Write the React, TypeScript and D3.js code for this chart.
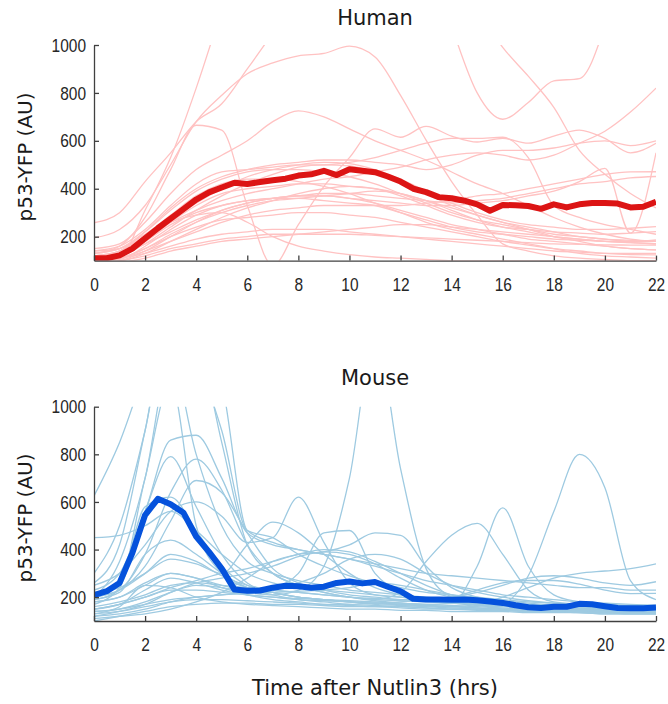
import React, { useEffect, useRef } from 'react';
import * as d3 from 'd3';

const WIDTH = 668;
const HEIGHT = 704;
const X_LEFT = 94;
const X_RIGHT = 656;

// time points (hrs) of the single-cell traces and of the mean traces
const HOURS = [0, 1, 2, 3, 4, 5, 6, 7, 8, 9, 10, 11, 12, 13, 14, 15, 16, 17, 18, 19, 20, 21, 22];
const HALF_HOURS = [
  0, 0.5, 1, 1.5, 2, 2.5, 3, 3.5, 4, 4.5, 5, 5.5, 6, 6.5, 7, 7.5, 8, 8.5, 9, 9.5, 10, 10.5,
  11, 11.5, 12, 12.5, 13, 13.5, 14, 14.5, 15, 15.5, 16, 16.5, 17, 17.5, 18, 18.5, 19, 19.5,
  20, 20.5, 21, 21.5, 22,
];
const X_TICKS = [0, 2, 4, 6, 8, 10, 12, 14, 16, 18, 20, 22];
const Y_TICKS = [200, 400, 600, 800, 1000];

// Human single cells, p53-YFP (AU) per hour, null = not tracked
const human01 = [90, 110, 310, 530, 820, 1150, null, null, null, null, null, null, null, null, null, null, null, null, null, null, null, null, null];
const human02 = [258, 300, 430, 550, 680, 755, 900, 1050, null, null, null, null, null, null, null, null, null, null, null, null, null, null, null];
const human03 = [195, 230, 330, 500, 680, 790, 880, 925, 955, 965, 995, 950, 790, 603, 430, 290, 170, 140, 120, 110, 105, 100, 100];
const human04 = [150, 170, 260, 380, 480, 540, 600, 680, 725, 700, 650, 600, 560, 520, 470, 420, 380, 330, 280, 240, 210, 190, 180];
const human05 = [null, null, null, null, null, null, null, null, null, null, null, null, null, null, 1080, 800, 690, 760, 850, 860, 1080, null, null];
const human06 = [null, null, null, null, null, null, null, null, null, null, null, null, null, null, null, 1150, 990, 870, 740, 560, 460, 380, 320];
const human07 = [120, 130, 180, 250, 300, 330, 350, 360, 370, 370, 360, 350, 340, 330, 330, 340, 350, 370, 390, 430, 485, 215, 550];
const human08 = [140, 150, 200, 260, 310, 350, 380, 400, 420, 440, 450, 470, 490, 520, 540, 550, 540, 520, 540, 590, 640, 720, 820];
const human09 = [130, 160, 280, 480, 665, 645, 330, 80, 250, 410, 530, 650, 615, 660, 620, 595, 610, 590, 620, 645, 610, 550, 590];
const human10 = [120, 140, 220, 320, 400, 450, 480, 500, 510, 520, 520, 510, 500, 480, 500, 540, 560, 560, 570, 590, 600, 580, 600];
const human11 = [140, 160, 230, 330, 420, 470, 480, 490, 500, 500, 510, 530, 560, 590, 610, 610, 615, 530, 330, 280, 250, 230, 210];
const human12 = [100, 105, 160, 230, 290, 330, 350, 360, 360, 350, 340, 330, 300, 270, 240, 220, 210, 200, 190, 185, 180, 175, 170];
const human13 = [90, 100, 140, 200, 260, 310, 340, 360, 370, 370, 360, 340, 310, 280, 250, 230, 210, 190, 180, 170, 160, 150, 145];
const human14 = [80, 95, 130, 180, 230, 280, 320, 350, 380, 400, 410, 400, 370, 330, 290, 260, 240, 230, 220, 215, 210, 215, 221];
const human15 = [120, 140, 200, 270, 340, 400, 450, 480, 500, 510, 505, 480, 440, 390, 340, 300, 270, 250, 240, 230, 230, 235, 242];
const human16 = [110, 120, 170, 240, 310, 370, 420, 460, 490, 500, 495, 470, 430, 380, 330, 290, 260, 240, 220, 200, 190, 180, 186];
const human17 = [100, 110, 150, 200, 240, 270, 280, 290, 300, 300, 290, 280, 260, 240, 220, 200, 180, 165, 150, 140, 130, 125, 124];
const human18 = [90, 100, 120, 150, 170, 190, 200, 210, 210, 210, 210, 205, 200, 195, 190, 185, 180, 175, 170, 168, 166, 165, 165];
const human19 = [70, 90, 110, 140, 160, 180, 190, 200, 210, 220, 230, 240, 250, 250, 240, 230, 220, 210, 200, 190, 180, 175, 170];
const human20 = [110, 140, 200, 260, 290, 300, 260, 200, 160, 140, 125, 115, 110, 105, 100, 100, 100, 100, 100, 100, 100, 100, 100];
const human21 = [130, 150, 210, 290, 370, 420, 440, 440, 430, 410, 380, 340, 300, 260, 230, 210, 190, 170, 150, 130, 120, 115, 110];
const human22 = [100, 120, 180, 260, 330, 380, 400, 410, 420, 420, 410, 400, 380, 350, 320, 290, 260, 230, 200, 180, 160, 150, 145];
const human23 = [95, 110, 150, 210, 260, 300, 330, 350, 360, 370, 380, 390, 380, 350, 310, 270, 240, 220, 200, 190, 180, 180, 180];
const human24 = [100, 110, 140, 180, 220, 260, 290, 310, 320, 330, 330, 330, 330, 340, 350, 370, 380, 400, 420, 440, 460, 470, 471];
const human25 = [120, 130, 170, 220, 270, 310, 340, 360, 370, 380, 380, 370, 360, 350, 340, 350, 360, 380, 400, 420, 430, 445, 451];
const human26 = [130, 150, 220, 310, 390, 440, 470, 480, 480, 470, 450, 420, 380, 340, 300, 270, 250, 230, 210, 200, 190, 185, 180];
const human27 = [100, 110, 130, 160, 190, 210, 220, 230, 230, 230, 220, 210, 200, 190, 180, 170, 160, 150, 140, 135, 130, 130, 130];

const humanCells = [
  human01, human02, human03, human04, human05, human06, human07, human08, human09,
  human10, human11, human12, human13, human14, human15, human16, human17, human18,
  human19, human20, human21, human22, human23, human24, human25, human26, human27,
];

const humanMean = [
  110, 110, 122, 150, 193, 235, 275, 315, 355, 385, 405, 425, 420, 428, 435, 442, 455, 460,
  475, 457, 481, 475, 469, 451, 430, 400, 386, 365, 360, 350, 335, 308, 332, 331, 328, 316,
  335, 322, 335, 340, 340, 338, 322, 325, 346,
];

// Mouse single cells
const mouse01 = [180, 200, 260, 300, 280, 240, 210, 190, 180, 170, 165, 160, 160, 155, 150, 150, 170, 290, 560, 800, 660, 270, 190];
const mouse02 = [150, 170, 230, 280, 260, 230, 210, 200, 195, 190, 185, 180, 175, 170, 175, 330, 575, 330, 210, 180, 165, 160, 155];
const mouse03 = [200, 230, 300, 380, 350, 290, 250, 230, 220, 210, 200, 190, 220, 350, 460, 510, 380, 230, 180, 170, 165, 160, 160];
const mouse04 = [140, 150, 180, 220, 250, 240, 220, 210, 230, 330, 700, 1300, 740, 320, 200, 170, 150, 140, 140, 135, 130, 130, 130];
const mouse05 = [250, 300, 420, 560, 600, 540, 430, 450, 620, 430, 260, 210, 200, 190, 180, 170, 165, 160, 155, 150, 150, 145, 145];
const mouse06 = [180, 200, 250, 300, 280, 250, 230, 240, 300, 470, 480, 300, 220, 190, 175, 165, 160, 155, 150, 150, 150, 145, 145];
const mouse07 = [220, 240, 300, 360, 340, 300, 420, 515, 470, 380, 300, 240, 210, 195, 185, 175, 170, 165, 160, 155, 150, 150, 150];
const mouse08 = [300, 500, 900, 1400, 1200, 900, 480, 450, 380, 330, 290, 260, 240, 220, 210, 200, 190, 180, 175, 170, 170, 165, 165];
const mouse09 = [625, 850, 1150, 1400, 1300, 1100, 480, 430, 400, 380, 360, 340, 320, 300, 290, 280, 270, 260, 250, 240, 240, 230, 230];
const mouse10 = [200, 350, 700, 1200, 800, 500, 350, 300, 270, 250, 230, 220, 210, 200, 190, 180, 175, 170, 165, 160, 160, 155, 155];
const mouse11 = [230, 300, 560, 860, 880, 700, 470, 420, 400, 380, 360, 330, 300, 270, 250, 230, 210, 200, 190, 180, 175, 170, 165];
const mouse12 = [170, 240, 560, 790, 580, 380, 260, 220, 200, 190, 180, 175, 170, 165, 160, 155, 150, 150, 145, 145, 140, 140, 140];
const mouse13 = [190, 230, 380, 640, 780, 650, 420, 300, 250, 220, 200, 185, 175, 170, 165, 160, 155, 150, 150, 145, 145, 140, 140];
const mouse14 = [200, 230, 330, 520, 690, 640, 470, 320, 260, 230, 210, 200, 190, 185, 180, 175, 170, 165, 160, 160, 155, 155, 150];
const mouse15 = [210, 260, 580, 620, 480, 330, 250, 220, 200, 190, 180, 175, 170, 165, 160, 155, 150, 150, 145, 145, 140, 140, 140];
const mouse16 = [190, 220, 380, 440, 380, 300, 240, 210, 190, 180, 170, 165, 160, 155, 150, 150, 145, 145, 140, 140, 140, 135, 135];
const mouse17 = [130, 160, 250, 240, 200, 180, 170, 165, 160, 155, 150, 150, 145, 145, 140, 140, 140, 135, 135, 135, 130, 130, 130];
const mouse18 = [260, 420, 900, 1400, 1300, 850, 420, 300, 250, 220, 200, 190, 185, 180, 175, 170, 165, 160, 155, 150, 150, 150, 150];
const mouse19 = [450, 460, 500, 560, 480, 380, 300, 260, 240, 230, 220, 210, 200, 190, 180, 170, 165, 160, 155, 150, 150, 150, 150];
const mouse20 = [100, 120, 140, 160, 170, 175, 175, 170, 170, 165, 160, 160, 155, 150, 150, 145, 145, 140, 140, 140, 135, 135, 135];
const mouse21 = [120, 130, 150, 180, 200, 210, 215, 220, 225, 230, 240, 260, 250, 230, 210, 195, 185, 175, 165, 160, 155, 150, 150];
const mouse22 = [150, 170, 200, 230, 230, 220, 210, 200, 190, 185, 180, 175, 170, 165, 160, 170, 200, 240, 280, 300, 310, 320, 340];
const mouse23 = [160, 180, 210, 250, 260, 250, 240, 230, 220, 210, 200, 195, 190, 190, 200, 220, 250, 280, 290, 280, 260, 250, 265];
const mouse24 = [140, 150, 170, 190, 200, 210, 220, 230, 260, 300, 360, 380, 360, 300, 250, 220, 200, 185, 175, 170, 165, 165, 160];
const mouse25 = [110, 120, 130, 150, 180, 220, 280, 350, 380, 390, 420, 470, 460, 330, 240, 200, 180, 170, 160, 150, 145, 140, 140];
const mouse26 = [200, 260, 700, 1100, 500, 300, 240, 220, 200, 190, 180, 170, 165, 160, 155, 150, 145, 140, 140, 135, 135, 130, 130];
const mouse27 = [150, 170, 200, 240, 270, 300, 320, 350, 380, 400, 390, 350, 300, 250, 210, 190, 175, 165, 160, 155, 150, 150, 150];
const mouse28 = [120, 140, 170, 220, 260, 280, 300, 330, 370, 390, 380, 340, 280, 230, 200, 180, 170, 160, 150, 145, 140, 140, 140];
const mouse29 = [130, 140, 160, 180, 190, 190, 185, 180, 175, 170, 170, 175, 180, 190, 200, 230, 260, 270, 270, 255, 230, 215, 216];

const mouseCells = [
  mouse01, mouse02, mouse03, mouse04, mouse05, mouse06, mouse07, mouse08, mouse09, mouse10,
  mouse11, mouse12, mouse13, mouse14, mouse15, mouse16, mouse17, mouse18, mouse19, mouse20,
  mouse21, mouse22, mouse23, mouse24, mouse25, mouse26, mouse27, mouse28, mouse29,
];

const mouseMean = [
  209, 225, 260, 385, 545, 613, 590, 555, 455, 390, 320, 232, 227, 228, 240, 248, 246, 240,
  244, 260, 266, 258, 264, 244, 225, 193, 190, 190, 189, 190, 187, 182, 176, 166, 158, 155,
  160, 160, 172, 170, 162, 155, 154, 154, 157,
];

const panels = [
  { id: 'human', title: 'Human', titleY: 25, top: 45, bottom: 260.6, labelY: 157, cells: humanCells, mean: humanMean, thin: '#ffc2c2', thick: '#dc1414' },
  { id: 'mouse', title: 'Mouse', titleY: 384.5, top: 406.7, bottom: 621, labelY: 518, cells: mouseCells, mean: mouseMean, thin: '#9ecae1', thick: '#0552dc' },
];

const TEXT_FONT = '"DejaVu Sans", Verdana, sans-serif';
const TICK_FONT = '"Liberation Sans Narrow", "Liberation Sans", Arial, sans-serif';

const App = () => {
  const svgRef = useRef(null);

  useEffect(() => {
    const svg = d3.select(svgRef.current);
    svg.selectAll('*').remove();

    const x = d3.scaleLinear().domain([0, 22]).range([X_LEFT, X_RIGHT]);

    panels.forEach(p => {
      const y = d3.scaleLinear().domain([100, 1000]).range([p.bottom, p.top]);
      const g = svg.append('g');

      g.append('clipPath')
        .attr('id', `clip-${p.id}`)
        .append('rect')
        .attr('x', X_LEFT)
        .attr('y', p.top)
        .attr('width', X_RIGHT - X_LEFT)
        .attr('height', p.bottom - p.top);

      const plot = g.append('g').attr('clip-path', `url(#clip-${p.id})`);

      const cellLine = d3
        .line()
        .defined(d => d != null)
        .x((d, i) => x(HOURS[i]))
        .y(d => y(d))
        .curve(d3.curveMonotoneX);

      plot
        .selectAll('.cell')
        .data(p.cells)
        .enter()
        .append('path')
        .attr('class', 'cell')
        .attr('d', d => cellLine(d))
        .attr('fill', 'none')
        .attr('stroke', p.thin)
        .attr('stroke-width', 1.3);

      const meanLine = d3
        .line()
        .x((d, i) => x(HALF_HOURS[i]))
        .y(d => y(d));

      plot
        .append('path')
        .attr('d', meanLine(p.mean))
        .attr('fill', 'none')
        .attr('stroke', p.thick)
        .attr('stroke-width', 6)
        .attr('stroke-linejoin', 'round');

      // axes, ticks pointing inward
      const yAxis = g
        .append('g')
        .attr('transform', `translate(${X_LEFT},0)`)
        .call(d3.axisLeft(y).tickValues(Y_TICKS).tickFormat(d3.format('d')).tickSizeInner(-5).tickSizeOuter(0).tickPadding(8));

      const xAxis = g
        .append('g')
        .attr('transform', `translate(0,${p.bottom})`)
        .call(d3.axisBottom(x).tickValues(X_TICKS).tickFormat(d3.format('d')).tickSizeInner(-5).tickSizeOuter(0).tickPadding(17));

      [yAxis, xAxis].forEach(ax => {
        ax.select('.domain').attr('stroke', '#404040').attr('stroke-width', 1.3);
        ax.selectAll('.tick line').attr('stroke', '#404040').attr('stroke-width', 1.3);
        ax.selectAll('.tick text')
          .attr('fill', '#262626')
          .style('font-family', TICK_FONT)
          .style('font-size', '19px')
          .attr('textLength', d => String(d).length * 8.6)
          .attr('lengthAdjust', 'spacingAndGlyphs');
      });

      g.append('text')
        .attr('x', (X_LEFT + X_RIGHT) / 2)
        .attr('y', p.titleY)
        .attr('text-anchor', 'middle')
        .style('font-family', TEXT_FONT)
        .style('font-size', '21px')
        .attr('fill', '#1a1a1a')
        .text(p.title);

      g.append('text')
        .attr('transform', `translate(32,${p.labelY}) rotate(-90)`)
        .attr('text-anchor', 'middle')
        .style('font-family', TEXT_FONT)
        .style('font-size', '20px')
        .attr('fill', '#1a1a1a')
        .text('p53-YFP (AU)');
    });

    svg
      .append('text')
      .attr('x', (X_LEFT + X_RIGHT) / 2)
      .attr('y', 695)
      .attr('text-anchor', 'middle')
      .style('font-family', TEXT_FONT)
      .style('font-size', '21px')
      .attr('fill', '#1a1a1a')
      .text('Time after Nutlin3 (hrs)');
  }, []);

  return (
    <svg
      ref={svgRef}
      width={WIDTH}
      height={HEIGHT}
      style={{ position: 'absolute', left: 0, top: 0, background: '#fff' }}
    />
  );
};

export default App;
